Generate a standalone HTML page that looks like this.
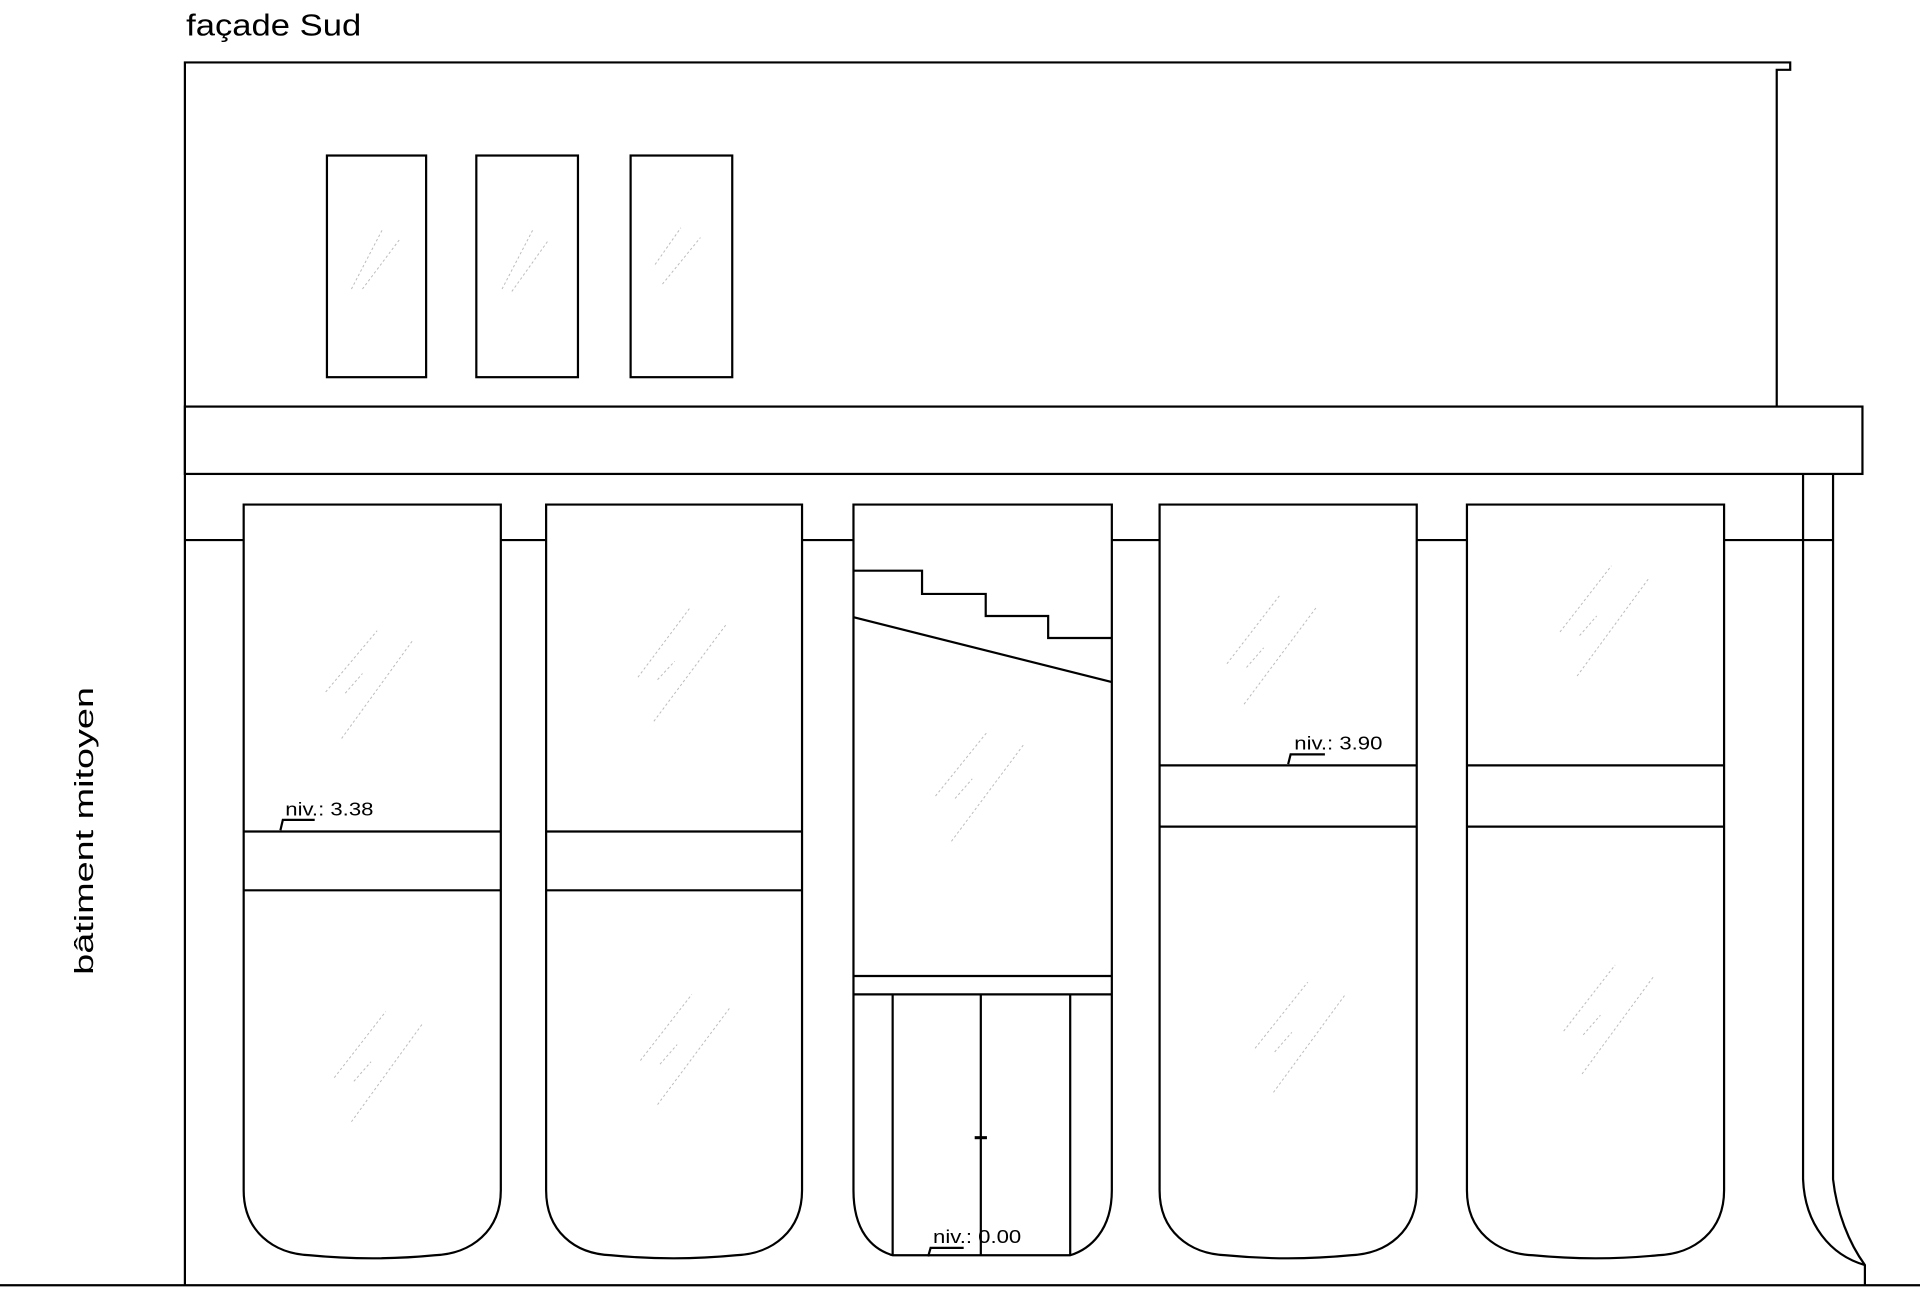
<!DOCTYPE html>
<html><head><meta charset="utf-8"><style>
html,body{margin:0;padding:0;background:#fff;}
svg{display:block;}
</style></head><body>
<svg width="1920" height="1303" viewBox="0 0 1568 1064" preserveAspectRatio="none" xmlns="http://www.w3.org/2000/svg">
<g fill="none" stroke="#000" stroke-width="1.8">
<polyline points="151,1049 151,51 1462,51 1462,57 1451,57 1451,332"/>
<rect x="151" y="332" width="1370" height="55"/>
<rect x="267" y="127" width="81" height="181"/>
<rect x="389" y="127" width="83" height="181"/>
<rect x="515" y="127" width="83" height="181"/>
<line x1="151" y1="441" x2="199" y2="441"/>
<line x1="409" y1="441" x2="446" y2="441"/>
<line x1="655" y1="441" x2="697" y2="441"/>
<line x1="908" y1="441" x2="947" y2="441"/>
<line x1="1157" y1="441" x2="1198" y2="441"/>
<line x1="1408" y1="441" x2="1497" y2="441"/>
<path d="M1472.5,387 L1472.5,963 C1474,1000 1495,1025 1523,1033"/>
<path d="M1497,387 L1497,963 C1500,990 1510,1015 1523,1033 L1523,1049"/>
<line x1="0" y1="1049.5" x2="1568" y2="1049.5"/>
<path d="M199,412 H409 V972 C409,1005 385,1024 355,1025 Q304,1030 253,1025 C223,1024 199,1005 199,972 Z"/>
<path d="M446,412 H655 V972 C655,1005 631,1024 601,1025 Q550,1030 499,1025 C469,1024 446,1005 446,972 Z"/>
<path d="M697,412 H908 V972 C908,1005 890,1020 874,1025 H729 C712,1020 697,1005 697,972 Z"/>
<path d="M947,412 H1157 V972 C1157,1005 1133,1024 1103,1025 Q1052,1030 1001,1025 C971,1024 947,1005 947,972 Z"/>
<path d="M1198,412 H1408 V972 C1408,1005 1384,1024 1354,1025 Q1303,1030 1252,1025 C1222,1024 1198,1005 1198,972 Z"/>
<line x1="199" y1="679" x2="409" y2="679"/><line x1="199" y1="727" x2="409" y2="727"/>
<line x1="446" y1="679" x2="655" y2="679"/><line x1="446" y1="727" x2="655" y2="727"/>
<line x1="947" y1="625" x2="1157" y2="625"/><line x1="947" y1="675" x2="1157" y2="675"/>
<line x1="1198" y1="625" x2="1408" y2="625"/><line x1="1198" y1="675" x2="1408" y2="675"/>
<polyline points="697,466 753,466 753,485 805,485 805,503 856,503 856,521 908,521"/>
<line x1="697" y1="504" x2="908" y2="557"/>
<line x1="697" y1="797" x2="908" y2="797"/>
<line x1="697" y1="812" x2="908" y2="812"/>
<line x1="729" y1="812" x2="729" y2="1025"/>
<line x1="874" y1="812" x2="874" y2="1025"/>
<line x1="801" y1="812" x2="801" y2="1025"/>
<line x1="796" y1="929" x2="806" y2="929" stroke-width="2.5"/>
<polyline points="257,669.5 231,669.5 229,678"/>
<polyline points="1082,616 1054,616 1052,624"/>
<polyline points="787,1019 760,1019 758,1026"/>
</g>
<g stroke="#bbb" stroke-width="0.8" stroke-dasharray="2,2" fill="none">
<line x1="266" y1="565" x2="308" y2="515"/><line x1="282" y1="566" x2="296" y2="550"/><line x1="279" y1="603" x2="337" y2="523"/>
<line x1="521" y1="553" x2="563" y2="497"/><line x1="537" y1="555" x2="551" y2="540"/><line x1="534" y1="589" x2="593" y2="510"/>
<line x1="764" y1="650" x2="806" y2="598"/><line x1="780" y1="652" x2="794" y2="636"/><line x1="777" y1="687" x2="836" y2="608"/>
<line x1="1002" y1="542" x2="1046" y2="485"/><line x1="1018" y1="545" x2="1032" y2="529"/><line x1="1016" y1="575" x2="1075" y2="496"/>
<line x1="1274" y1="516" x2="1316" y2="462"/><line x1="1290" y1="519" x2="1304" y2="503"/><line x1="1288" y1="552" x2="1346" y2="473"/>
<line x1="273" y1="880" x2="315" y2="826"/><line x1="289" y1="883" x2="303" y2="867"/><line x1="287" y1="916" x2="345" y2="836"/>
<line x1="523" y1="866" x2="565" y2="812"/><line x1="539" y1="869" x2="553" y2="853"/><line x1="537" y1="902" x2="596" y2="823"/>
<line x1="1025" y1="856" x2="1068" y2="802"/><line x1="1041" y1="859" x2="1055" y2="843"/><line x1="1040" y1="892" x2="1098" y2="813"/>
<line x1="1277" y1="842" x2="1319" y2="788"/><line x1="1293" y1="845" x2="1307" y2="829"/><line x1="1292" y1="877" x2="1350" y2="798"/>
<line x1="287" y1="236" x2="312" y2="188"/><line x1="296" y1="236" x2="326" y2="196"/>
<line x1="410" y1="236" x2="435" y2="188"/><line x1="418" y1="238" x2="448" y2="196"/>
<line x1="535" y1="216" x2="556" y2="186"/><line x1="541" y1="232" x2="572" y2="194"/>
</g>
<g font-family="'Liberation Sans', sans-serif" fill="#000">
<text x="152" y="29" font-size="25" textLength="143" lengthAdjust="spacingAndGlyphs">façade Sud</text>
<text x="233" y="666" font-size="15" textLength="72" lengthAdjust="spacingAndGlyphs">niv.: 3.38</text>
<text x="1057" y="612" font-size="15" textLength="72" lengthAdjust="spacingAndGlyphs">niv.: 3.90</text>
<text x="762" y="1015" font-size="15" textLength="72" lengthAdjust="spacingAndGlyphs">niv.: 0.00</text>
<text transform="translate(76,796) rotate(-90)" font-size="21" textLength="235" lengthAdjust="spacingAndGlyphs">bâtiment mitoyen</text>
</g>
</svg>
</body></html>
